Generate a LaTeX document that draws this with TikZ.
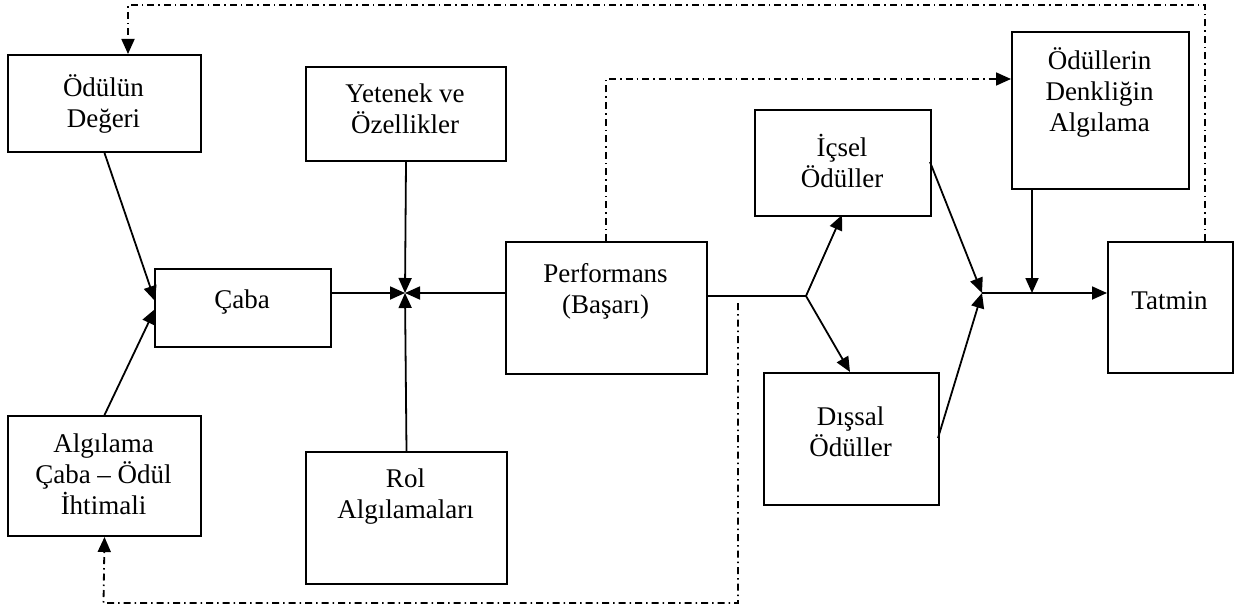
\documentclass[tikz,border=0pt]{standalone}
\usepackage{fontspec}
\setmainfont{Liberation Serif}
\usetikzlibrary{arrows.meta}
\begin{document}
\begin{tikzpicture}[x=1pt,y=-1pt,
  box/.style={draw, line width=2pt, inner sep=0pt, anchor=north west},
  txt/.style={align=center, inner sep=0pt, font=\fontsize{27}{31}\selectfont},
  conn/.style={line width=1.8pt, -{Triangle[length=15pt,width=13pt]}},
  plain/.style={line width=1.8pt},
  dd/.style={line width=1.8pt, dash pattern=on 7pt off 4pt on 1.5pt off 4pt},
  dda/.style={dd, -{Triangle[length=15pt,width=13pt]}}]
\useasboundingbox (0,0) rectangle (1235,610);
% boxes
\node[box, minimum width=193pt, minimum height=97pt] (odul) at (7,54) {};
\node[box, minimum width=200pt, minimum height=94pt] (yet) at (305,66) {};
\node[box, minimum width=176pt, minimum height=78pt] (caba) at (154,268) {};
\node[box, minimum width=201pt, minimum height=132pt] (perf) at (505,241) {};
\node[box, minimum width=176pt, minimum height=106pt] (icsel) at (754,109) {};
\node[box, minimum width=175pt, minimum height=132pt] (dissal) at (763,372) {};
\node[box, minimum width=177pt, minimum height=157pt] (denk) at (1011,31) {};
\node[box, minimum width=125pt, minimum height=131pt] (tatmin) at (1107,241) {};
\node[box, minimum width=193pt, minimum height=120pt] (alg) at (7,415) {};
\node[box, minimum width=201pt, minimum height=132pt] (rol) at (305,451) {};
% texts
\node[txt] (todul) at (103.5,104) {Ödülün\\Değeri};
\node[txt] (tyet) at (405,109) {Yetenek ve\\Özellikler};
\node[txt] (tcaba) at (242,302) {Çaba};
\node[txt] (tperf) at (605.5,291) {Performans\\(Başarı)};
\node[txt] (ticsel) at (842,161) {İçsel\\Ödüller};
\node[txt] (tdissal) at (850.5,432) {Dışsal\\Ödüller};
\node[txt] (tdenk) at (1099.5,92) {Ödüllerin\\Denkliğin\\Algılama};
\node[txt] (ttatmin) at (1169.5,301) {Tatmin};
\node[txt] (talg) at (103.5,474) {Algılama\\Çaba – Ödül\\İhtimali};
\node[txt] (trol) at (405.5,497) {Rol\\Algılamaları};
% junctions
\coordinate (J1) at (405,293);
\coordinate (B) at (806,296);
\coordinate (J2) at (982,293);
\coordinate (T1) at (155,301);
\coordinate (T2) at (155,309);
\coordinate (Ji) at (842,215);
\coordinate (Jd) at (850,372);
\coordinate (Ei) at (930,162);
\coordinate (Ed) at (938,438);
\coordinate (Dk) at (1032,293);
% solid connectors
\draw[conn] (odul.south) -- (T1);
\draw[conn] (alg.north) -- (T2);
\draw[conn] (caba.east |- J1) -- (J1);
\draw[conn] (yet.south) -- (J1);
\draw[conn] (rol.north) -- (J1);
\draw[conn] (perf.west |- J1) -- (J1);
\draw[plain] (perf.east |- B) -- (B);
\draw[conn] (B) -- (Ji);
\draw[conn] (B) -- (Jd);
\draw[conn] (Ei) -- (J2);
\draw[conn] (Ed) -- (J2);
\draw[conn] (denk.south -| Dk) -- (Dk);
\draw[conn] (J2) -- (tatmin.west |- J2);
% dash-dot feedback
\coordinate (d1) at (1205,5);
\coordinate (d2) at (128,5);
\draw[dda] (tatmin.north -| d1) -- (d1) -- (d2) -- (d2 |- odul.north);
\coordinate (d3) at (606,79);
\draw[dda] (perf.north -| d3) -- (d3) -- (d3 -| denk.west);
\coordinate (d4) at (738,303);
\coordinate (d5) at (738,603);
\coordinate (d6) at (103.5,603);
\draw[dda] (d4) -- (d5) -- (d6) -- (alg.south);
\end{tikzpicture}
\end{document}
